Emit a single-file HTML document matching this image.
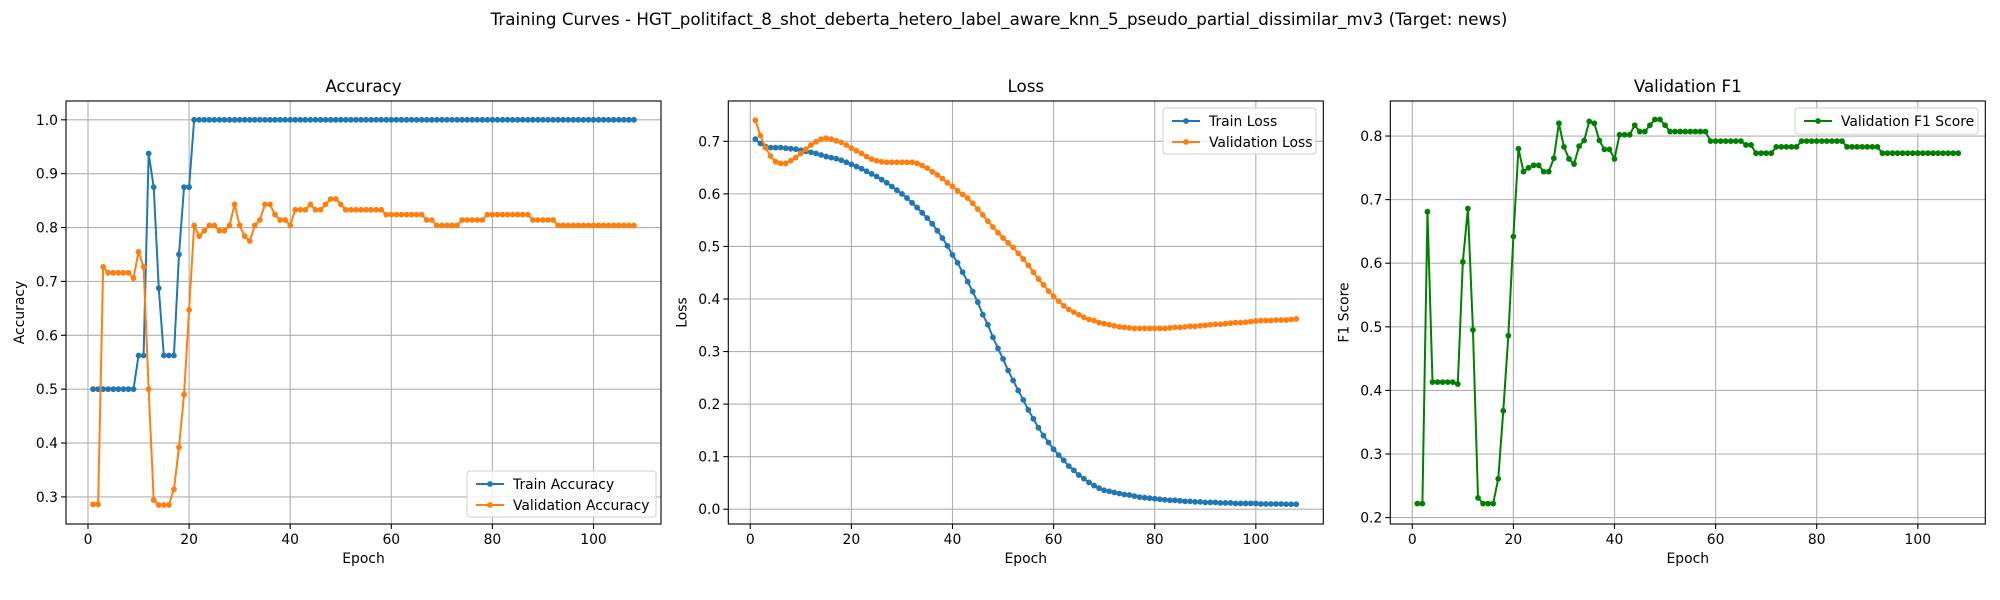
<!DOCTYPE html>
<html><head><meta charset="utf-8"><style>
body{margin:0;background:#fff;}
svg{display:block;font-family:"DejaVu Sans","Liberation Sans",sans-serif;}
</style></head><body>
<svg id="fig" width="2000" height="600" viewBox="0 0 2000 600" xmlns="http://www.w3.org/2000/svg">
<rect x="0" y="0" width="2000" height="600" fill="#fff"/>
<text x="999" y="25" text-anchor="middle" font-size="16.7" fill="#000">Training Curves - HGT_politifact_8_shot_deberta_hetero_label_aware_knn_5_pseudo_partial_dissimilar_mv3 (Target: news)</text>
</svg>
<script>
const trainAcc = [0.5,0.5,0.5,0.5,0.5,0.5,0.5,0.5,0.5,0.5625,0.5625,0.9375,0.875,0.6875,0.5625,0.5625,0.5625,0.75,0.875,0.875].concat(new Array(88).fill(1.0));
const valAcc = [0.286,0.286,0.727,0.716,0.716,0.716,0.716,0.716,0.706,0.755,0.727,0.5,0.294,0.285,0.285,0.285,0.314,0.392,0.49,0.647,
0.804,0.784,0.794,0.804,0.804,0.794,0.794,0.804,0.843,0.804,0.784,0.775,0.804,0.814,0.843,0.843,0.824,0.814,0.814,0.804,
0.833,0.833,0.833,0.843,0.833,0.833,0.843,0.853,0.853,0.843,0.833,0.833,0.833,0.833,0.833,0.833,0.833,0.833,
0.824,0.824,0.824,0.824,0.824,0.824,0.824,0.824,0.814,0.814,0.804,0.804,0.804,0.804,0.804,0.814,0.814,0.814,0.814,0.814,
0.824,0.824,0.824,0.824,0.824,0.824,0.824,0.824,0.824,0.814,0.814,0.814,0.814,0.814,
0.804,0.804,0.804,0.804,0.804,0.804,0.804,0.804,0.804,0.804,0.804,0.804,0.804,0.804,0.804,0.804];
const trainLoss = [0.704,0.696,0.690,0.688,0.688,0.688,0.687,0.686,0.685,0.683,0.681,0.679,0.677,0.674,0.671,0.669,0.667,0.664,0.660,0.656,
0.652,0.648,0.643,0.638,0.633,0.627,0.621,0.614,0.607,0.600,0.592,0.583,0.574,0.564,0.554,0.543,0.530,0.516,0.501,0.484,
0.469,0.451,0.433,0.414,0.394,0.370,0.351,0.327,0.306,0.286,0.264,0.245,0.226,0.208,0.189,0.172,0.155,0.140,0.127,0.114,
0.103,0.093,0.082,0.074,0.065,0.058,0.051,0.045,0.040,0.036,0.034,0.032,0.030,0.028,0.027,0.025,0.023,0.022,0.021,0.020,
0.019,0.018,0.017,0.017,0.016,0.015,0.015,0.014,0.014,0.013,0.013,0.013,0.012,0.012,0.012,0.011,0.011,0.011,0.011,0.011,
0.010,0.010,0.010,0.010,0.010,0.0095,0.0095,0.0095];
const valLoss = [0.740,0.711,0.688,0.672,0.661,0.658,0.658,0.663,0.669,0.677,0.685,0.693,0.699,0.704,0.706,0.704,0.701,0.698,0.693,0.687,
0.682,0.677,0.671,0.666,0.663,0.661,0.660,0.660,0.660,0.660,0.660,0.660,0.658,0.654,0.649,0.642,0.636,0.629,0.621,0.614,
0.606,0.599,0.592,0.582,0.571,0.560,0.548,0.537,0.526,0.516,0.507,0.498,0.487,0.476,0.464,0.451,0.438,0.427,0.415,0.405,
0.396,0.387,0.380,0.375,0.370,0.365,0.361,0.359,0.355,0.353,0.351,0.349,0.347,0.346,0.345,0.344,0.344,0.344,0.344,0.344,
0.344,0.344,0.345,0.346,0.346,0.347,0.348,0.348,0.349,0.350,0.351,0.352,0.352,0.353,0.354,0.355,0.355,0.356,0.357,0.358,
0.359,0.359,0.359,0.360,0.360,0.360,0.361,0.362];
const valF1 = [0.222,0.222,0.681,0.413,0.413,0.413,0.413,0.413,0.410,0.602,0.686,0.495,0.231,0.222,0.222,0.222,0.261,0.368,0.486,0.642,
0.780,0.744,0.750,0.754,0.754,0.744,0.744,0.765,0.820,0.783,0.764,0.756,0.784,0.793,0.823,0.820,0.793,0.779,0.779,0.764,
0.802,0.802,0.802,0.817,0.807,0.807,0.817,0.826,0.826,0.817,0.807,0.807,0.807,0.807,0.807,0.807,0.807,0.807,
0.792,0.792,0.792,0.792,0.792,0.792,0.792,0.786,0.786,0.773,0.773,0.773,0.773,0.783,0.783,0.783,0.783,0.783,
0.792,0.792,0.792,0.792,0.792,0.792,0.792,0.792,0.792,0.783,0.783,0.783,0.783,0.783,0.783,0.783,
0.773,0.773,0.773,0.773,0.773,0.773,0.773,0.773,0.773,0.773,0.773,0.773,0.773,0.773,0.773,0.773];
const xTicks = [0,20,40,60,80,100];
const accTicks = [0.3,0.4,0.5,0.6,0.7,0.8,0.9,1.0];
const lossTicks = [0.0,0.1,0.2,0.3,0.4,0.5,0.6,0.7];
const f1Ticks = [0.2,0.3,0.4,0.5,0.6,0.7,0.8];

const NS = "http://www.w3.org/2000/svg";
const fig = document.getElementById('fig');
function mk(tag, attrs, parent){const e=document.createElementNS(NS,tag);for(const k in attrs)e.setAttribute(k,attrs[k]);(parent||fig).appendChild(e);return e;}

function panel(key, left, yMin, yMax, yTicks, ylabel, title, series, legend){
  const top=101, bottom=524, w=595, right=left+w;
  const xMin=-4.35, xMax=113.35;
  const sx=v=>left+(v-xMin)/(xMax-xMin)*w;
  const sy=v=>bottom-(v-yMin)/(yMax-yMin)*(bottom-top);
  const g=mk('g',{});
  
  
  xTicks.forEach(t=>{
    const x=sx(t);
    const l=mk('line',{x1:x,x2:x,y1:top,y2:bottom,stroke:'#b0b0b0','stroke-width':1.1},g);
    
    
    mk('line',{x1:x,x2:x,y1:bottom,y2:bottom+5,stroke:'#000','stroke-width':1.1},g);
    const tx=mk('text',{x:x,y:bottom+20,'text-anchor':'middle','font-size':13.9,fill:'#000'},g);
    tx.textContent=String(t);
    
    
  });
  yTicks.forEach(t=>{
    const y=sy(t);
    const l=mk('line',{x1:left,x2:right,y1:y,y2:y,stroke:'#b0b0b0','stroke-width':1.1},g);
    
    
    mk('line',{x1:left-5,x2:left,y1:y,y2:y,stroke:'#000','stroke-width':1.1},g);
    const tx=mk('text',{x:left-8,y:y+5,'text-anchor':'end','font-size':13.9,fill:'#000'},g);
    tx.textContent=t.toFixed(1);
    
    
  });
  series.forEach(s=>{
    const pts=s.data.map((v,i)=>sx(i+1).toFixed(2)+','+sy(v).toFixed(2)).join(' ');
    const pl=mk('polyline',{points:pts,fill:'none',stroke:s.color,'stroke-width':2,'stroke-linejoin':'round'},g);
    
    
    s.data.forEach((v,i)=>{
      const c=mk('circle',{cx:sx(i+1),cy:sy(v),r:2.9,fill:s.color},g);
      
      
    });
  });
  const fr=mk('rect',{x:left,y:top,width:w,height:bottom-top,fill:'none',stroke:'#000','stroke-width':1.1},g);
  
  
  const tt=mk('text',{x:left+w/2,y:92,'text-anchor':'middle','font-size':16.7,fill:'#000'},g);
  tt.textContent=title;
  
  
  const xl=mk('text',{x:left+w/2,y:563,'text-anchor':'middle','font-size':13.9,fill:'#000'},g);
  xl.textContent='Epoch';
  
  
  const yx=left-42, yy=(top+bottom)/2;
  const yl=mk('text',{x:yx,y:yy,'text-anchor':'middle','font-size':13.9,fill:'#000',transform:'rotate(-90 '+yx+' '+yy+')'},g);
  yl.textContent=ylabel;
  
  
  const lg=mk('g',{},g);
  
  
  mk('rect',{x:legend.x,y:legend.y,width:legend.w,height:legend.h,rx:3,fill:'#fff','fill-opacity':0.8,stroke:'#d0d0d0','stroke-width':1},lg);
  series.forEach((s,i)=>{
    const cy=legend.y+13+i*21;
    mk('line',{x1:legend.x+9,x2:legend.x+37,y1:cy,y2:cy,stroke:s.color,'stroke-width':2},lg);
    mk('circle',{cx:legend.x+23,cy:cy,r:2.9,fill:s.color},lg);
    const t=mk('text',{x:legend.x+46,y:cy+5,'font-size':13.9,fill:'#000'},lg);
    t.textContent=s.label;
    
    
  });
}
panel('accuracy',66,0.2497,1.0349,accTicks,'Accuracy','Accuracy',
  [{data:trainAcc,color:'#1f77b4',name:'train-accuracy-line',label:'Train Accuracy'},
   {data:valAcc,color:'#ff7f0e',name:'validation-accuracy-line',label:'Validation Accuracy'}],
  {x:467,y:471,w:189,h:46});
panel('loss',728.3,-0.0281,0.7767,lossTicks,'Loss','Loss',
  [{data:trainLoss,color:'#1f77b4',name:'train-loss-line',label:'Train Loss'},
   {data:valLoss,color:'#ff7f0e',name:'validation-loss-line',label:'Validation Loss'}],
  {x:1163,y:108,w:153,h:46});
panel('f1',1390.3,0.1899,0.8551,f1Ticks,'F1 Score','Validation F1',
  [{data:valF1,color:'#008000',name:'validation-f1-line',label:'Validation F1 Score'}],
  {x:1795,y:108,w:183,h:26});
</script>
</body></html>
